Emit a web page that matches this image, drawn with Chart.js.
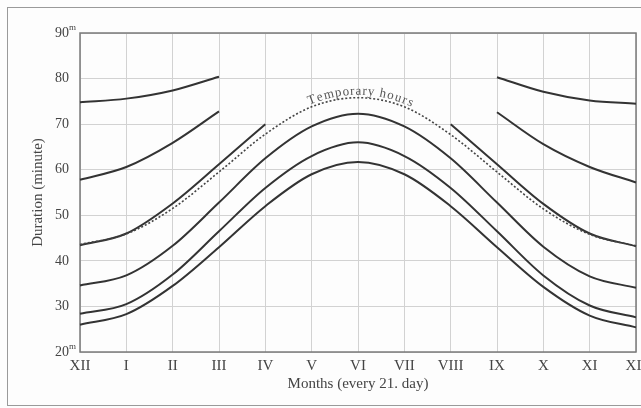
<!DOCTYPE html>
<html>
<head>
<meta charset="utf-8">
<script src="https://cdn.jsdelivr.net/npm/chart.js@4.4.1/dist/chart.umd.min.js"></script>
<style>
  html, body { margin:0; padding:0; background:#fdfdfd; }
  #wrap { width:641px; height:408px; }
</style>
</head>
<body>
<div id="wrap"><canvas id="chart" width="641" height="408"></canvas></div>
<script>
const months = ['XII','I','II','III','IV','V','VI','VII','VIII','IX','X','XI','XII'];
const yTicks = [20, 30, 40, 50, 60, 70, 80, 90];

const curve1 = [26.0, 28.3, 34.5, 43.0, 52.0, 59.0, 61.7, 59.0, 52.0, 43.0, 34.3, 28.0, 25.4];
const curve2 = [28.4, 30.5, 37.0, 46.5, 56.0, 63.0, 66.0, 63.0, 56.0, 46.5, 36.8, 30.2, 27.6];
const curve3 = [34.6, 36.8, 43.3, 52.8, 62.5, 69.5, 72.3, 69.5, 62.5, 52.8, 43.1, 36.6, 34.1];
const temporaryHours = [43.6, 45.9, 51.5, 59.5, 67.8, 73.8, 75.8, 73.8, 67.7, 59.5, 51.4, 45.8, 43.3];
const curve4 = [43.4, 46.0, 52.6, 61.2, 70.0, null, null, null, 70.0, 61.2, 52.5, 46.0, 43.2];
const curve5 = [57.8, 60.6, 65.9, 72.8, null, null, null, null, null, 72.6, 65.6, 60.6, 57.2];
const curve6 = [74.8, 75.6, 77.4, 80.4, null, null, null, null, null, 80.3, 77.1, 75.2, 74.5];

const serif = '"Liberation Serif", "DejaVu Serif", serif';
const ink = '#333';

function solid(data){
  return { data, borderColor: ink, borderWidth: 2, pointRadius: 0, cubicInterpolationMode: 'monotone', spanGaps: false, fill: false };
}

// bezier point of the drawn curve at pixel x
function curveAt(pts, x){
  for(let i=0;i<pts.length-1;i++){
    const a = pts[i], b = pts[i+1];
    if(x < a.x || x > b.x) continue;
    const P = [[a.x,a.y],[a.cp2x,a.cp2y],[b.cp1x,b.cp1y],[b.x,b.y]];
    const bz = (t,k)=>{ const u=1-t; return u*u*u*P[0][k]+3*u*u*t*P[1][k]+3*u*t*t*P[2][k]+t*t*t*P[3][k]; };
    const dz = (t,k)=>{ const u=1-t; return 3*u*u*(P[1][k]-P[0][k])+6*u*t*(P[2][k]-P[1][k])+3*t*t*(P[3][k]-P[2][k]); };
    let lo=0, hi=1;
    for(let n=0;n<30;n++){ const m=(lo+hi)/2; if(bz(m,0)<x) lo=m; else hi=m; }
    const t=(lo+hi)/2;
    return { y: bz(t,1), ang: Math.atan2(dz(t,1), dz(t,0)) };
  }
  return null;
}

const decor = {
  id: 'decor',
  beforeDraw(chart){
    const ctx = chart.ctx;
    ctx.save();
    ctx.fillStyle = '#fdfdfd';
    ctx.fillRect(0,0,chart.width,chart.height);
    ctx.strokeStyle = '#9a9a9a';
    ctx.lineWidth = 1;
    ctx.strokeRect(7.5, 7.5, 700, 398);
    ctx.restore();
  },
  beforeDatasetsDraw(chart){
    const {ctx, chartArea:a} = chart;
    ctx.save();
    ctx.strokeStyle = '#7a7a7a';
    ctx.lineWidth = 1.5;
    ctx.strokeRect(a.left, a.top, a.right-a.left, a.bottom-a.top);
    ctx.restore();
  },
  afterDraw(chart){
    const {ctx, chartArea:a, scales} = chart;
    ctx.save();
    ctx.fillStyle = '#444';
    ctx.font = '15px ' + serif;
    ctx.textAlign = 'center';
    ctx.textBaseline = 'middle';
    ctx.fillText('Months (every 21. day)', (a.left+a.right)/2, 384);
    ctx.save();
    ctx.translate(38, (a.top+a.bottom)/2);
    ctx.rotate(-Math.PI/2);
    ctx.fillText('Duration (minute)', 0, 0);
    ctx.restore();
    // minute marks on the end ticks
    ctx.font = '9px ' + serif;
    ctx.textAlign = 'left';
    [20, 90].forEach(v=>ctx.fillText('m', 69, scales.y.getPixelForValue(v)-5));

    // label along the dotted curve
    const pts = chart.getDatasetMeta(3).data;
    ctx.font = '13px ' + serif;
    ctx.fillStyle = '#555';
    ctx.textAlign = 'center';
    ctx.textBaseline = 'alphabetic';
    let x = 309;
    for(const ch of 'Temporary hours'){
      const w = ctx.measureText(ch).width;
      const c = curveAt(pts, x + w/2);
      if(c){
        ctx.save();
        ctx.translate(x + w/2, c.y - 3);
        ctx.rotate(c.ang);
        ctx.fillText(ch, 0, 0);
        ctx.restore();
      }
      x += w + 0.9;
    }
    ctx.restore();
  }
};

new Chart(document.getElementById('chart'), {
  type: 'line',
  data: {
    labels: months,
    datasets: [
      solid(curve1),
      solid(curve2),
      solid(curve3),
      { data: temporaryHours, borderColor: '#444', borderWidth: 1.6, borderDash: [2,2], pointRadius: 0, cubicInterpolationMode: 'monotone', fill: false },
      solid(curve4),
      solid(curve5),
      solid(curve6)
    ]
  },
  options: {
    responsive: false,
    animation: false,
    layout: { padding: { left: 7, right: 5, top: 33, bottom: 0 } },
    plugins: { legend: { display: false }, tooltip: { enabled: false } },
    scales: {
      x: {
        offset: false,
        grid: { color: '#d2d2d2', lineWidth: 1, drawTicks: false },
        border: { display: false },
        ticks: { color: '#444', font: { family: serif, size: 15 }, padding: 5, maxRotation: 0, autoSkip: false },
        afterFit(s){ s.height = 56; s.paddingLeft = 0; s.paddingRight = 0; }
      },
      y: {
        min: 20, max: 90,
        afterBuildTicks(s){ s.ticks = yTicks.map(v=>({value:v})); },
        grid: { color: '#d2d2d2', lineWidth: 1, drawTicks: false },
        border: { display: false },
        ticks: { color: '#444', font: { family: serif, size: 14 }, padding: 11 },
        afterFit(s){ s.width = 73; s.paddingTop = 0; s.paddingBottom = 0; }
      }
    }
  },
  plugins: [decor]
});
</script>
</body>
</html>
